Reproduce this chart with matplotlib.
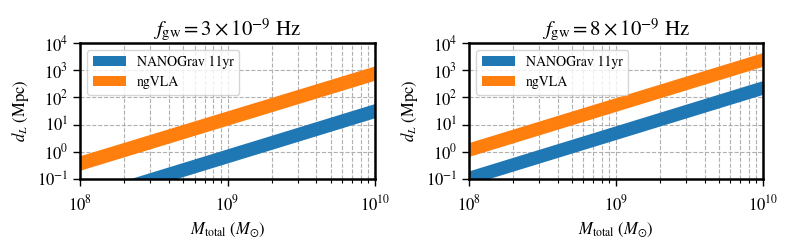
import matplotlib
matplotlib.use("Agg")
import matplotlib.pyplot as plt
import numpy as np

plt.rcParams['font.family'] = 'serif'
plt.rcParams['font.serif'] = ['STIXGeneral', 'Liberation Serif', 'DejaVu Serif']
plt.rcParams['mathtext.fontset'] = 'stix'

# Data
mass = [1e8, 1e10]
titles = [r'$f_{\rm gw} = 3\times10^{-9}$ Hz', r'$f_{\rm gw} = 8\times10^{-9}$ Hz']
series_names = ['NANOGrav 11yr', 'ngVLA']
colors = ['#1f77b4', '#ff7f0e']
yticks = [1e-1, 1e0, 1e1, 1e2, 1e3, 1e4]
# panel 1
p1_nano_lo = [0.0085, 18]
p1_nano_hi = [0.028, 60]
p1_ngvla_lo = [0.21, 430]
p1_ngvla_hi = [0.72, 1450]
# panel 2
p2_nano_lo = [0.062, 130]
p2_nano_hi = [0.2, 420]
p2_ngvla_lo = [0.68, 1400]
p2_ngvla_hi = [2.2, 4500]

panels = [
    [(p1_nano_lo, p1_nano_hi), (p1_ngvla_lo, p1_ngvla_hi)],
    [(p2_nano_lo, p2_nano_hi), (p2_ngvla_lo, p2_ngvla_hi)],
]

fig = plt.figure(figsize=(7.93, 2.45), dpi=100)
axes_pos = [[80/793, 1-179/245, 295/793, 136/245],
            [469/793, 1-179/245, 294/793, 136/245]]

for k in range(2):
    ax = fig.add_axes(axes_pos[k])
    for (lo, hi), name, c in zip(panels[k], series_names, colors):
        ax.fill_between(mass, lo, hi, color=c, label=name, lw=0)
    ax.set_xscale('log')
    ax.set_yscale('log')
    ax.set_xlim(1e8, 1e10)
    ax.set_ylim(1e-1, 1e4)
    ax.set_yticks(yticks)
    ax.yaxis.set_minor_locator(matplotlib.ticker.NullLocator())
    ax.grid(True, which='major', ls='--', color='#b0b0b0', lw=0.8)
    ax.xaxis.grid(True, which='minor', ls='--', color='#b0b0b0', lw=0.8)
    ax.set_axisbelow(True)
    for s in ax.spines.values():
        s.set_linewidth(1.8)
    ax.tick_params(which='major', length=5, width=1.0, labelsize=12)
    ax.tick_params(which='minor', length=3, width=0.8)
    ax.tick_params(axis='x', which='major', pad=6)
    ax.set_xlabel(r'$M_{\rm total}$ $(M_{\odot})$', fontsize=12)
    ax.set_ylabel(r'$d_L$ (Mpc)', fontsize=12)
    ax.set_title(titles[k], fontsize=15, pad=6)
    ax.legend(loc='upper left', fontsize=10, framealpha=0.8, handlelength=2.4)

fig.savefig('out.png', dpi=100)
